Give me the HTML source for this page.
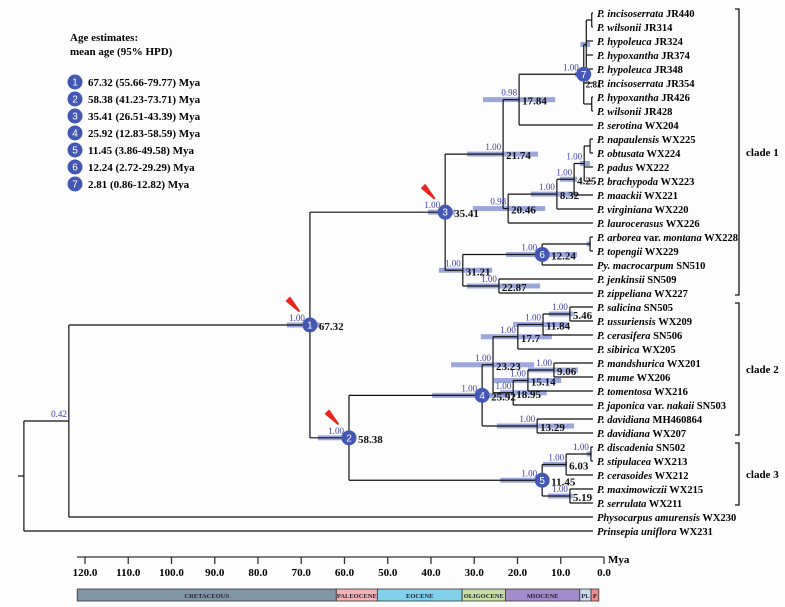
<!DOCTYPE html>
<html><head><meta charset="utf-8"><style>
html,body{margin:0;padding:0;background:#fdfdfd;}
svg{display:block;font-family:"Liberation Serif",serif;}
</style></head><body>
<svg id="chart" width="785" height="607" viewBox="0 0 785 607" xmlns="http://www.w3.org/2000/svg">
<g font-weight="bold" font-size="11">
<text x="70" y="41">Age estimates:</text>
<text x="70" y="55">mean age (95% HPD)</text>
<g id="legendEntries"></g>
</g>
<g id="hpd"></g>
<g id="branches" stroke="#111" stroke-width="1.2" fill="none"></g>
<g id="labels"></g>
<g id="leaves" font-size="10.5" font-weight="bold"></g>
<g id="clades" font-size="11" font-weight="bold"></g>
<g id="axis" font-size="11" font-weight="bold"></g>
</svg>
<script>
// ---------- data ----------
const leafNames = ["*P. incisoserrata* JR440","*P. wilsonii* JR314","*P. hypoleuca* JR324","*P. hypoxantha* JR374","*P. hypoleuca* JR348","*P. incisoserrata* JR354","*P. hypoxantha* JR426","*P. wilsonii* JR428","*P. serotina* WX204","*P. napaulensis* WX225","*P. obtusata* WX224","*P. padus* WX222","*P. brachypoda* WX223","*P. maackii* WX221","*P. virginiana* WX220","*P. laurocerasus* WX226","*P. arborea* var. *montana* WX228","*P. topengii* WX229","*Py. macrocarpum* SN510","*P. jenkinsii* SN509","*P. zippeliana* WX227","*P. salicina* SN505","*P. ussuriensis* WX209","*P. cerasifera* SN506","*P. sibirica* WX205","*P. mandshurica* WX201","*P. mume* WX206","*P. tomentosa* WX216","*P. japonica* var. *nakaii* SN503","*P. davidiana* MH460864","*P. davidiana* WX207","*P. discadenia* SN502","*P. stipulacea* WX213","*P. cerasoides* WX212","*P. maximowiczii* WX215","*P. serrulata* WX211","*Physocarpus amurensis* WX230","*Prinsepia uniflora* WX231"];
const leafParents = ["nA1","nA1","nA","nA","nA","N7","nB","nB","D","I","I","H","H","G","F","E","K","K","N6","J","J","U","U","T","P","S","S","R","Q","M","M","X","X","V","W","W","A","root"];
const nodeIds     = ["root","A","N1","N3","B","D","N7","nA","nA1","nB","E","F","G","H","I","C","N6","K","J","N2","N4","L","P","T","U","Q","R","S","M","N5","V","X","W"];
const nodeParents = ["","root","A","N1","N3","B","D","N7","nA","N7","B","E","F","G","H","N3","C","N6","C","N1","N2","N4","L","P","T","L","Q","R","N4","N2","N5","V","N5"];
const nodeAges    = [135.5,124.8,67.4,35.2,21.4,17.6,2.2,1.6,0.3,0.3,20.2,8.6,4.5,2.1,0.7,31,12.1,0.7,22.4,58.1,26.4,23.8,17.9,11.9,5.5,19,15.5,9.3,13.3,12.1,6.4,0.5,5.5];
const nodePost    = ["","0.42","1.00","1.00","1.00","0.98","1.00","","","","0.98","1.00","1.00","1.00","","1.00","1.00","","1.00","1.00","1.00","1.00","1.00","1.00","1.00","1.00","1.00","1.00","1.00","1.00","1.00","1.00","1.00"];
const nodeAgeText = ["","","67.32","35.41","21.74","17.84","2.81","","","","20.46","8.32","4.25","","","31.21","12.24","","22.87","58.38","25.92","23.23","17.7","11.84","5.46","18.95","15.14","9.06","13.29","11.45","6.03","","5.19"];
const nodeCircle  = ["","","1","3","","","7","","","","","","","","","","6","","","2","4","","","","","","","","","5","","",""];
const hpdLo = [null,null,65.0,32.9,13.1,9.0,0.7,0.7,null,null,11.4,3.8,3.8,0.7,null,24.0,3.8,0.5,12.6,57.4,19.8,14.0,9.8,6.0,4.8,11.0,7.6,3.6,4.5,11.9,6.2,0.3,4.8];
const hpdHi = [null,null,72.9,39.3,30.0,26.2,4.3,3.0,null,null,28.6,14.8,7.9,3.1,null,36.7,20.7,1.5,30.0,65.5,38.3,33.8,26.7,19.0,10.5,22.1,23.6,15.5,22.9,22.1,11.9,1.5,10.7];
const legendText = ["67.32 (55.66-79.77) Mya","58.38 (41.23-73.71) Mya","35.41 (26.51-43.39) Mya","25.92 (12.83-58.59) Mya","11.45 (3.86-49.58) Mya","12.24 (2.72-29.29) Mya","2.81 (0.86-12.82) Mya"];
const axisTicks = [120,110,100,90,80,70,60,50,40,30,20,10,0];
const epochNames = ["CRETACEOUS","PALEOCENE","EOCENE","OLIGOCENE","MIOCENE","PL","P"];
const epochStart = [121.8,61.9,52.4,32.8,22.8,5.6,3.0];
const epochEnd   = [61.9,52.4,32.8,22.8,5.6,3.0,1.2];
const epochColors = ["#7f96a8","#f4b2b4","#7fd2ea","#c6dea2","#a48ccb","#cad9ec","#ef8b8b"];
const cladeNames = ["clade 1","clade 2","clade 3"];
const cladeFirst = [0,21,31];
const cladeLast  = [20,30,35];

// ---------- scales ----------
const NS="http://www.w3.org/2000/svg";
const treeX = a => 593 - a*4.2;
const leafY = i => 13 + i*14.0;
const axX = t => 604 - t*4.325;
function mk(tag, attrs, parent){const e=document.createElementNS(NS,tag);for(const k in attrs)e.setAttribute(k,attrs[k]);parent.appendChild(e);return e;}

// ---------- compute positions ----------
const pos = {};
leafNames.forEach((n,i)=>{pos["leaf"+i]={x:treeX(0),y:leafY(i)};});
const children = {};
nodeIds.forEach(id=>children[id]=[]);
leafParents.forEach((p,i)=>children[p].push("leaf"+i));
nodeParents.forEach((p,i)=>{if(p)children[p].push(nodeIds[i]);});
function layout(id){
  if(id.startsWith("leaf")) return pos[id].y;
  const ys = children[id].map(layout);
  const idx = nodeIds.indexOf(id);
  pos[id]={x:treeX(nodeAges[idx]),y:(Math.min(...ys)+Math.max(...ys))/2};
  return pos[id].y;
}
layout("root");

const gH=document.getElementById("hpd"), gB=document.getElementById("branches"), gL=document.getElementById("labels"), gLeaf=document.getElementById("leaves");

// HPD bars
nodeIds.forEach((id,i)=>{
  if(hpdLo[i]===null) return;
  const x1=treeX(hpdHi[i]), x2=treeX(hpdLo[i]);
  const r=mk("rect",{x:x1,y:pos[id].y-2.5,width:x2-x1,height:5,fill:"#5a6cc8","fill-opacity":"0.6"},gH);
  
  
});

// branches
nodeIds.forEach(id=>{
  const p=pos[id], ch=children[id];
  const ys=ch.map(c=>pos[c].y);
  const v=mk("line",{x1:p.x,x2:p.x,y1:Math.min(...ys),y2:Math.max(...ys)},gB);
  
  
  ch.forEach(c=>{
    const h=mk("line",{x1:p.x,x2:pos[c].x,y1:pos[c].y,y2:pos[c].y},gB);
    
    
  });
});
const stub=mk("line",{x1:18,x2:pos.root.x,y1:pos.root.y,y2:pos.root.y},gB);



// node labels, circles, arrows
nodeIds.forEach((id,i)=>{
  const p=pos[id]; const circ=nodeCircle[i];
  if(nodePost[i]){
    const t=mk("text",{x:p.x-(circ?5:2),y:p.y-4,"text-anchor":"end","font-size":"9",fill:"#3a3aa8"},gL);
    t.textContent=nodePost[i];
    
    
  }
  if(circ){
    const c=mk("circle",{cx:p.x,cy:p.y,r:7.5,fill:"#4358b4"},gL);
    
    
    const n=mk("text",{x:p.x,y:p.y+3.5,"text-anchor":"middle","font-size":"10",fill:"#fff","font-family":"Liberation Sans, sans-serif"},gL);
    n.textContent=circ;
    
    
  }
  if(nodeAgeText[i]){
    const a=mk("text",{x:p.x+(circ?(circ==="7"?2:9):3),y:p.y+(circ==="7"?13:5),"font-size":circ==="7"?"9":"11","font-weight":"bold",fill:"#111"},gL);
    a.textContent=nodeAgeText[i];
    
    
  }
  if(circ==="1"||circ==="2"||circ==="3"){
    const ar=mk("path",{d:`M${p.x-23} ${p.y-24} L${p.x-20} ${p.y-27} L${p.x-11} ${p.y-14} Z`,fill:"#e8261c",stroke:"#e8261c","stroke-width":"2","stroke-linejoin":"round"},gL);
    
    
  }
});

// leaf labels
leafNames.forEach((n,i)=>{
  const t=mk("text",{x:597,y:leafY(i)+4},gLeaf);
  
  
  n.split("*").forEach((part,k)=>{
    if(!part) return;
    const s=mk("tspan",{},t);
    if(k%2===1) s.setAttribute("font-style","italic");
    s.textContent=part;
  });
});

// clade brackets
const gC=document.getElementById("clades");
cladeNames.forEach((c,i)=>{
  const y1=leafY(cladeFirst[i])-4, y2=leafY(cladeLast[i])+2;
  const b=mk("path",{d:`M735 ${y1} H739 V${y2} H735`,stroke:"#111","stroke-width":"1.3",fill:"none"},gC);
  
  
  const t=mk("text",{x:746,y:(y1+y2)/2+4},gC);
  t.textContent=c;
  
  
});

// legend
const gLe=document.getElementById("legendEntries");
legendText.forEach((s,i)=>{
  const cy=82+i*17;
  const c=mk("circle",{cx:75,cy:cy,r:7.5,fill:"#4358b4"},gLe);
  
  
  const n=mk("text",{x:75,y:cy+3.5,"text-anchor":"middle","font-size":"10","font-weight":"normal",fill:"#fff","font-family":"Liberation Sans, sans-serif"},gLe);
  n.textContent=String(i+1);
  
  
  const t=mk("text",{x:88,y:cy+4},gLe);
  t.textContent=s;
  
  
});

// axis
const gA=document.getElementById("axis");
const al=mk("line",{x1:77,x2:axX(0),y1:557,y2:557,stroke:"#555","stroke-width":"1.5"},gA);


axisTicks.forEach(t=>{
  const tk=mk("line",{x1:axX(t),x2:axX(t),y1:557,y2:564,stroke:"#333","stroke-width":"1.3"},gA);
  
  
  const lb=mk("text",{x:axX(t),y:576,"text-anchor":"middle"},gA);
  lb.textContent=t.toFixed(1);
  
  
});
const my=mk("text",{x:axX(0)+4,y:563},gA);
my.textContent="Mya";



epochNames.forEach((n,i)=>{
  const x1=axX(epochStart[i]), x2=axX(epochEnd[i]);
  const r=mk("rect",{x:x1,y:589,width:x2-x1,height:12,fill:epochColors[i],stroke:"#333","stroke-width":"0.8"},gA);
  
  
  const t=mk("text",{x:(x1+x2)/2,y:598,"text-anchor":"middle","font-size":"6.5",fill:"#223"},gA);
  t.textContent=n;
  
  
});
</script>
</body></html>
